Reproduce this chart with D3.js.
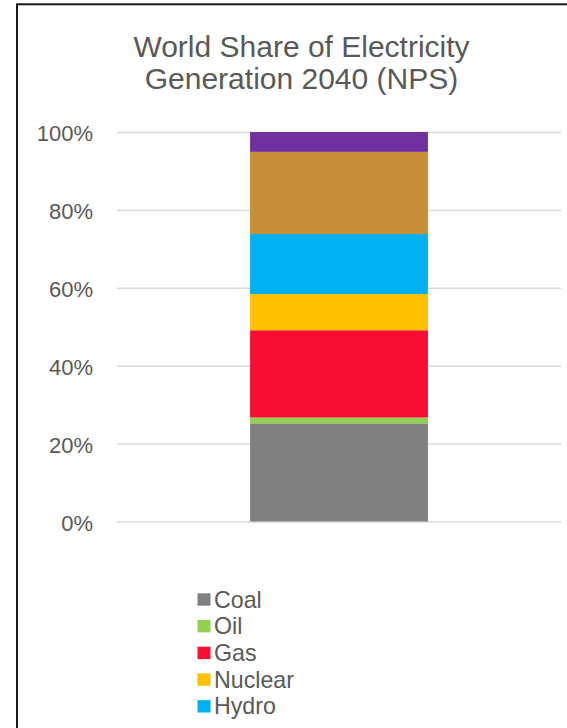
<!DOCTYPE html>
<html>
<head>
<meta charset="utf-8">
<script src="https://cdn.jsdelivr.net/npm/d3@7"></script>
<style>
  html, body { margin: 0; padding: 0; background: #fff; overflow: hidden; }
  svg { display: block; font-family: "Liberation Sans", Arial, sans-serif; }
</style>
</head>
<body>
<div class="ChartWrapper"></div>
<script>
// chart data
const scenario = ['2040 NPS'];
const sources = ['Coal', 'Oil', 'Gas', 'Nuclear', 'Hydro', 'Other Renewables', 'Bioenergy'];
const shares = [0.252, 0.015, 0.224, 0.093, 0.154, 0.211, 0.051];
const colours = ['#808080', '#92d050', '#f90d32', '#ffc000', '#00b0f0', '#c58e37', '#7030a0'];
const yTicks = [0, 0.2, 0.4, 0.6, 0.8, 1];
const titleLines = ['World Share of Electricity', 'Generation 2040 (NPS)'];
// only the first five legend entries fit inside the chart box
const legendCount = 5;

const W = 567, H = 728;
const PLOT = { left: 117, right: 561, top: 132, bottom: 521.5 };
const TEXT = '#595959';

const svg = d3.select('.ChartWrapper')
  .append('svg')
  .attr('width', W)
  .attr('height', H);

// frame (only left and top edges fall inside the window)
svg.append('rect')
  .attr('x', 17)
  .attr('y', 4.3)
  .attr('width', 700)
  .attr('height', 900)
  .attr('fill', 'none')
  .attr('stroke', '#1a1a1a')
  .attr('stroke-width', 2);

// title
svg.append('text')
  .attr('text-anchor', 'middle')
  .attr('fill', TEXT)
  .attr('font-size', 30)
  .selectAll('tspan')
  .data(titleLines)
  .enter()
  .append('tspan')
  .attr('x', 301.5)
  .attr('y', (d, i) => 56.5 + i * 32)
  .text(d => d);

const x = d3.scaleBand()
  .domain(scenario)
  .range([PLOT.left, PLOT.right])
  .padding(0.428);

const y = d3.scaleLinear()
  .domain([0, 1])
  .range([PLOT.bottom, PLOT.top]);

// gridlines + tick labels
const yAxis = svg.append('g')
  .attr('transform', `translate(${PLOT.left},0)`)
  .call(d3.axisLeft(y)
    .tickValues(yTicks)
    .tickFormat(d3.format('.0%'))
    .tickSize(-(PLOT.right - PLOT.left))
    .tickPadding(24));

yAxis.select('.domain').remove();
yAxis.selectAll('.tick line')
  .attr('stroke', '#d9d9d9')
  .attr('stroke-width', 1.5);
yAxis.selectAll('.tick text')
  .attr('fill', TEXT)
  .attr('font-size', 22)
  .attr('font-family', '"Liberation Sans", Arial, sans-serif')
  .attr('dy', '0.4em');

// stacked bar
const row = { scenario: scenario[0] };
sources.forEach((s, i) => { row[s] = shares[i]; });
const stacked = d3.stack().keys(sources)([row]);

svg.append('g')
  .selectAll('rect')
  .data(stacked)
  .enter()
  .append('rect')
  .attr('x', d => x(d[0].data.scenario))
  .attr('width', x.bandwidth())
  .attr('y', d => y(d[0][1]))
  .attr('height', d => y(d[0][0]) - y(d[0][1]))
  .attr('fill', (d, i) => colours[i]);

// legend
const legend = svg.append('g')
  .attr('transform', 'translate(197.5,599.5)');

const item = legend.selectAll('g')
  .data(sources.slice(0, legendCount))
  .enter()
  .append('g')
  .attr('transform', (d, i) => `translate(0,${i * 26.7})`);

item.append('rect')
  .attr('x', 0)
  .attr('y', -6.2)
  .attr('width', 13)
  .attr('height', 12.4)
  .attr('fill', (d, i) => colours[i]);

item.append('text')
  .attr('x', 16.5)
  .attr('y', 8)
  .attr('fill', TEXT)
  .attr('font-size', 23.2)
  .text(d => d);
</script>
</body>
</html>
